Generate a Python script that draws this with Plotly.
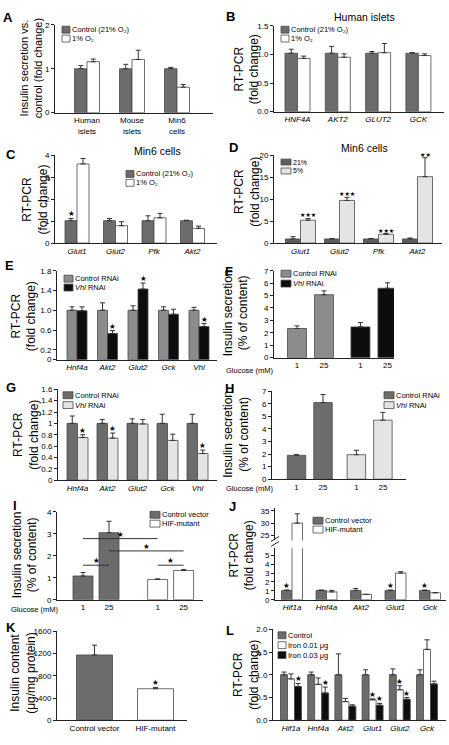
import plotly.graph_objects as go
import numpy as np

W, H = 449, 745
FONT = "Arial, Liberation Sans, sans-serif"
STAR_FONT = "DejaVu Sans, sans-serif"
C_DARK = "#6c6c6c"
C_MID = "#8c8c8c"
C_LIGHT = "#e4e4e4"
C_WHITE = "#ffffff"
C_BLACK = "#0d0d0d"
C_EDGE = "#4a4a4a"
C_AXIS = "#222222"
C_TEXT = "#000000"

# ---------------- data ----------------
A_labels = ["Human<br>islets", "Mouse<br>islets", "Min6<br>cells"]
A_control = [1.00, 1.00, 1.00]
A_control_err = [0.07, 0.10, 0.03]
A_hypoxia = [1.16, 1.21, 0.58]
A_hypoxia_err = [0.06, 0.21, 0.06]

B_labels = ["HNF4A", "AKT2", "GLUT2", "GCK"]
B_control = [1.02, 1.02, 1.02, 1.02]
B_control_err = [0.07, 0.12, 0.03, 0.01]
B_hypoxia = [0.93, 0.95, 1.03, 0.98]
B_hypoxia_err = [0.04, 0.06, 0.16, 0.03]

C_labels = ["Glut1", "Glut2", "Pfk", "Akt2"]
C_control = [1.02, 1.02, 1.02, 1.02]
C_control_err = [0.10, 0.10, 0.22, 0.02]
C_hypoxia = [3.60, 0.79, 1.15, 0.67]
C_hypoxia_err = [0.25, 0.18, 0.20, 0.10]
C_control_sig = ["★", "", "", ""]

D_labels = ["Glut1", "Glut2", "Pfk", "Akt2"]
D_21 = [0.95, 0.95, 0.95, 0.95]
D_21_err = [0.50, 0.10, 0.10, 0.20]
D_5 = [5.2, 9.7, 2.0, 15.1]
D_5_err = [0.4, 0.7, 0.15, 4.3]
D_5_sig = ["★★★", "★★★", "★★★", "★★"]

E_labels = ["Hnf4a", "Akt2", "Glut2", "Gck", "Vhl"]
E_control = [1.0, 1.0, 1.0, 1.0, 1.0]
E_control_err = [0.07, 0.15, 0.09, 0.07, 0.06]
E_vhl = [0.99, 0.53, 1.43, 0.92, 0.67]
E_vhl_err = [0.08, 0.06, 0.12, 0.10, 0.06]
E_vhl_sig = ["", "★", "★", "", "★"]

F_glucose = ["1", "25", "1", "25"]
F_control = [2.35, 5.07]
F_control_err = [0.21, 0.31]
F_vhl = [2.48, 5.59]
F_vhl_err = [0.34, 0.44]

G_labels = ["Hnf4a", "Akt2", "Glut2", "Gck", "Vhl"]
G_control = [1.0, 1.0, 1.0, 1.0, 1.0]
G_control_err = [0.13, 0.07, 0.08, 0.16, 0.16]
G_vhl = [0.75, 0.74, 0.99, 0.70, 0.47]
G_vhl_err = [0.05, 0.09, 0.08, 0.11, 0.06]
G_vhl_sig = ["★", "★", "", "", "★"]

H_glucose = ["1", "25", "1", "25"]
H_control = [1.90, 6.10]
H_control_err = [0.05, 0.64]
H_vhl = [1.95, 4.70]
H_vhl_err = [0.35, 0.62]

I_glucose = ["1", "25", "1", "25"]
I_control = [1.08, 3.05]
I_control_err = [0.16, 0.52]
I_mutant = [0.92, 1.33]
I_mutant_err = [0.03, 0.04]
I_brackets = [(0, 2, 2.78), (1, 3, 2.22), (0, 1, 1.57), (2, 3, 1.57)]

J_labels = ["Hif1a", "Hnf4a", "Akt2", "Glut1", "Gck"]
J_control = [1.05, 1.05, 1.05, 1.05, 1.05]
J_control_err = [0.03, 0.03, 0.22, 0.03, 0.03]
J_mutant = [30.0, 0.88, 0.6, 3.0, 0.78]
J_mutant_err = [3.8, 0.17, 0.0, 0.15, 0.03]
J_control_sig = ["★", "", "", "★", "★"]

K_labels = ["Control vector", "HIF-mutant"]
K_values = [1175, 567]
K_err = [176, 23]
K_sig = ["", "★"]

L_labels = ["Hif1a", "Hnf4a", "Akt2", "Glut1", "Glut2", "Gck"]
L_control = [1.0, 1.0, 1.0, 1.0, 1.0, 1.0]
L_control_err = [0.06, 0.06, 0.46, 0.11, 0.13, 0.11]
L_iron1 = [0.91, 0.79, 0.41, 0.45, 0.67, 1.56]
L_iron1_err = [0.11, 0.14, 0.07, 0.02, 0.09, 0.21]
L_iron3 = [0.74, 0.60, 0.31, 0.33, 0.46, 0.80]
L_iron3_err = [0.07, 0.13, 0.03, 0.04, 0.04, 0.06]
L_iron1_sig = ["", "", "", "★", "★", ""]
L_iron3_sig = ["★", "★", "", "★", "★", ""]

# ---------------- helpers ----------------
fig = go.Figure()
axes = {}
annotations = []
shapes = []
steps = {}
LEG = 7.5
YT = 12
STAR = 7.5


def ref(n, k):
    return k if n == 1 else f"{k}{n}"


def setup(n, box, yrange, ytv, ytt, c0, step, xtv, xtt, xfont=8):
    x0, x1, yt, yb = box
    xk = "xaxis" if n == 1 else f"xaxis{n}"
    yk = "yaxis" if n == 1 else f"yaxis{n}"
    axes[xk] = dict(domain=[x0 / W, x1 / W], range=[(x0 - c0) / step, (x1 - c0) / step],
                    anchor=ref(n, "y"), showline=True, linecolor=C_AXIS, linewidth=1,
                    ticks="", showgrid=False, zeroline=False, tickmode="array",
                    tickvals=xtv, ticktext=xtt, tickangle=0,
                    tickfont=dict(family=FONT, size=xfont, color=C_TEXT), fixedrange=True)
    axes[yk] = dict(domain=[1 - yb / H, 1 - yt / H], range=yrange, anchor=ref(n, "x"),
                    showline=True, linecolor=C_AXIS, linewidth=1, ticks="outside",
                    ticklen=3, tickwidth=1, tickcolor=C_AXIS, showgrid=False, zeroline=False,
                    tickmode="array", tickvals=ytv, ticktext=ytt,
                    tickfont=dict(family=FONT, size=8, color=C_TEXT), fixedrange=True)
    steps[n] = step


def star(x, y, xref, yref, s, size=STAR):
    annotations.append(dict(x=x, y=y, xref=xref, yref=yref, text=s, showarrow=False,
                            yanchor="bottom", yshift=-2,
                            font=dict(family=STAR_FONT, size=size, color="black")))


def bars(n, xs, ys, err, color, wpx, yref=None, sig=None, sigsize=STAR):
    w = wpx / steps[n]
    fig.add_trace(go.Bar(
        x=list(xs), y=ys, width=w,
        marker=dict(color=color, line=dict(color=C_EDGE, width=0.8)),
        error_y=dict(type="data", array=err, arrayminus=[0] * len(err), symmetric=False,
                     color="#333333", thickness=1, width=2.5),
        xaxis=ref(n, "x"), yaxis=yref or ref(n, "y"), showlegend=False, hoverinfo="skip"))
    if sig:
        for xv, yv, ev, s in zip(xs, ys, err, sig):
            if s:
                star(xv, yv + ev, ref(n, "x"), yref or ref(n, "y"), s, sigsize)


def legend_item(xpx, ypx, color, text, wpx=8, hpx=7, size=LEG):
    shapes.append(dict(type="rect", xref="paper", yref="paper", x0=xpx / W, x1=(xpx + wpx) / W,
                       y0=1 - (ypx + hpx / 2) / H, y1=1 - (ypx - hpx / 2) / H,
                       fillcolor=color, line=dict(color=C_EDGE, width=0.8)))
    annotations.append(dict(x=(xpx + wpx) / W, y=1 - ypx / H, xref="paper", yref="paper",
                            text=text, showarrow=False, xanchor="left", yanchor="middle",
                            font=dict(family=FONT, size=size, color=C_TEXT)))


def text(xpx, ypx, s, size=8, bold=False, angle=0, xanchor="center"):
    annotations.append(dict(x=xpx / W, y=1 - ypx / H, xref="paper", yref="paper",
                            text=f"<b>{s}</b>" if bold else s, showarrow=False, textangle=angle,
                            xanchor=xanchor, yanchor="middle",
                            font=dict(family=FONT, size=size, color=C_TEXT)))


def italic(lst):
    return [f"<i>{s}</i>" for s in lst]


def pair_x(n_cat, wpx, step):
    idx = np.arange(n_cat, dtype=float)
    h = wpx / step / 2
    return idx, idx - h, idx + h


# ---------------- A ----------------
setup(1, (55, 213, 21, 110), [0, 2], [0, 1, 2], ["0", "1", "2"], 87, 45,
      list(range(3)), A_labels)
c, l, r = pair_x(3, 12.5, 45)
bars(1, l, A_control, A_control_err, C_DARK, 12.5)
bars(1, r, A_hypoxia, A_hypoxia_err, C_WHITE, 12.5)
legend_item(62, 26, C_DARK, "Control (21% O₂)")
legend_item(62, 35, C_WHITE, "1% O₂")
text(31, 65, "Insulin secretion vs.<br>control (fold change)", 11, angle=-90)
text(8, 14, "A", 13, bold=True)

# ---------------- B ----------------
setup(2, (274, 444, 22, 109), [0, 1.5], [0, 0.5, 1.0, 1.5], ["0.0", "0.5", "1.0", "1.5"],
      297.5, 40.3, list(range(4)), italic(B_labels))
c, l, r = pair_x(4, 12.5, 40.3)
bars(2, l, B_control, B_control_err, C_DARK, 12.5)
bars(2, r, B_hypoxia, B_hypoxia_err, C_WHITE, 12.5)
legend_item(281, 26, C_DARK, "Control (21% O₂)")
legend_item(281, 35, C_WHITE, "1% O₂")
text(364, 13, "Human islets", 10.5)
text(247, 66, "RT-PCR<br>(fold change)", YT, angle=-90)
text(230, 13, "B", 13, bold=True)

# ---------------- C ----------------
setup(3, (55, 217, 153, 242), [0, 4], [0, 1, 2, 3, 4], ["0", "1", "2", "3", "4"],
      77, 38.5, list(range(4)), italic(C_labels))
c, l, r = pair_x(4, 12, 38.5)
bars(3, l, C_control, C_control_err, C_DARK, 12, sig=C_control_sig)
bars(3, r, C_hypoxia, C_hypoxia_err, C_WHITE, 12)
legend_item(126, 172, C_DARK, "Control (21% O₂)")
legend_item(126, 181, C_WHITE, "1% O₂")
text(157, 149, "Min6 cells", 10.5)
text(35, 198, "RT-PCR<br>(fold change)", YT, angle=-90)
text(11, 152, "C", 13, bold=True)

# ---------------- D ----------------
setup(4, (274, 442, 153, 242), [0, 20], [0, 5, 10, 15, 20], ["0", "5", "10", "15", "20"],
      300.5, 39, list(range(4)), italic(D_labels))
c, l, r = pair_x(4, 15, 39)
bars(4, l, D_21, D_21_err, "#5e5e5e", 15)
bars(4, r, D_5, D_5_err, C_LIGHT, 15, sig=D_5_sig, sigsize=6)
legend_item(281, 160, "#5e5e5e", "21%", wpx=10, hpx=6, size=7)
legend_item(281, 169, C_LIGHT, "5%", wpx=10, hpx=6, size=7)
text(364, 146, "Min6 cells", 10.5)
text(247, 190, "RT-PCR<br>(fold change)", YT, angle=-90)
text(233, 145, "D", 13, bold=True)

# ---------------- E ----------------
setup(5, (57, 217, 270, 360), [0, 1.8], [0, 0.2, 0.6, 1.0, 1.4, 1.8],
      ["0", "0.2", "0.6", "1.0", "1.4", "1.8"], 77, 30.5, list(range(5)), italic(E_labels))
c, l, r = pair_x(5, 10, 30.5)
bars(5, l, E_control, E_control_err, C_MID, 10)
bars(5, r, E_vhl, E_vhl_err, C_BLACK, 10, sig=E_vhl_sig)
legend_item(64, 278, C_MID, "Control RNAi", wpx=9)
legend_item(64, 287, C_BLACK, "<i>Vhl</i> RNAi", wpx=9)
text(24, 316, "RT-PCR<br>(fold change)", YT, angle=-90)
text(9, 265, "E", 13, bold=True)

# ---------------- F ----------------
grpF = np.array([0, 1, 0, 1], dtype=float) + np.array([0, 0, 2, 2]) * 1.175
setup(6, (274, 394, 270, 358), [0, 7], list(range(8)), [str(v) for v in range(8)],
      297, 27, list(grpF), F_glucose)
bars(6, grpF[:2], F_control, F_control_err, C_MID, 19)
bars(6, grpF[2:], F_vhl, F_vhl_err, C_BLACK, 19)
legend_item(281, 273, C_MID, "Control RNAi", wpx=10)
legend_item(281, 283, C_BLACK, "<i>Vhl</i> RNAi", wpx=10)
text(250, 371, "Glucose (mM)", 7.5)
text(236, 313, "Insulin secretion<br>(% of content)", YT, angle=-90)
text(229, 271, "F", 13, bold=True)

# ---------------- G ----------------
setup(7, (58, 217, 390, 482), [0, 1.6], [0, 0.2, 0.4, 0.6, 0.8, 1.0, 1.2, 1.4, 1.6],
      ["0", "0.2", "0.4", "0.6", "0.8", "1", "1.2", "1.4", "1.6"], 77.5, 30,
      list(range(5)), italic(G_labels))
c, l, r = pair_x(5, 10.5, 30)
bars(7, l, G_control, G_control_err, C_DARK, 10.5)
bars(7, r, G_vhl, G_vhl_err, C_LIGHT, 10.5, sig=G_vhl_sig)
legend_item(63, 396, C_DARK, "Control RNAi", wpx=10)
legend_item(63, 406, C_LIGHT, "<i>Vhl</i> RNAi", wpx=10)
text(26, 436, "RT-PCR<br>(fold change)", YT, angle=-90)
text(11, 388, "G", 13, bold=True)

# ---------------- H ----------------
grpH = np.array([0, 1, 0, 1], dtype=float) + np.array([0, 0, 2, 2]) * 1.13
setup(8, (272, 406, 392, 481), [0, 7], list(range(8)), [str(v) for v in range(8)],
      296.5, 26.5, list(grpH), H_glucose)
bars(8, grpH[:2], H_control, H_control_err, C_DARK, 18.5)
bars(8, grpH[2:], H_vhl, H_vhl_err, C_LIGHT, 18.5)
legend_item(384, 396, C_DARK, "Control RNAi", wpx=10)
legend_item(384, 406, C_LIGHT, "<i>Vhl</i> RNAi", wpx=10)
text(250, 490, "Glucose (mM)", 7.5)
text(236, 436, "Insulin secretion<br>(% of content)", YT, angle=-90)
text(229, 389, "H", 13, bold=True)

# ---------------- I ----------------
grpI = np.array([0, 1, 0, 1], dtype=float) + np.array([0, 0, 2, 2]) * 1.435
setup(9, (57, 203, 514, 603), [0, 4], [0, 1, 2, 3, 4], ["0", "1", "2", "3", "4"],
      83, 26, list(grpI), I_glucose)
bars(9, grpI[:2], I_control, I_control_err, C_DARK, 20)
bars(9, grpI[2:], I_mutant, I_mutant_err, C_WHITE, 20)
for a, b, yv in I_brackets:
    shapes.append(dict(type="line", xref="x9", yref="y9", x0=grpI[a], x1=grpI[b], y0=yv, y1=yv,
                       line=dict(color="#333333", width=1)))
    star((grpI[a] + grpI[b]) / 2, yv, "x9", "y9", "★")
legend_item(150, 517, C_DARK, "Control vector", wpx=10)
legend_item(150, 526, C_WHITE, "HIF-mutant", wpx=10)
text(35, 613, "Glucose (mM)", 7.5)
text(25, 558, "Insulin secretion<br>(% of content)", YT, angle=-90)
text(15, 508, "I", 13, bold=True)

# ---------------- J (broken axis) ----------------
setup(10, (275, 446, 551, 603), [0, 5.78], [0, 1, 2, 3, 4, 5], ["0", "1", "2", "3", "4", "5"],
      292, 34.5, list(range(5)), italic(J_labels))
axes["yaxis13"] = dict(domain=[1 - 543 / H, 1 - 510 / H], range=[23, 36.2], anchor="x10",
                       showline=True, linecolor=C_AXIS, linewidth=1, ticks="outside", ticklen=3,
                       tickwidth=1, tickcolor=C_AXIS, showgrid=False, zeroline=False,
                       tickmode="array", tickvals=[25, 30, 35], ticktext=["25", "30", "35"],
                       tickfont=dict(family=FONT, size=8, color=C_TEXT), fixedrange=True)
c, l, r = pair_x(5, 10.5, 34.5)
bars(10, l, J_control, J_control_err, C_DARK, 10.5, sig=J_control_sig)
bars(10, r, J_mutant, J_mutant_err, C_WHITE, 10.5)
bars(10, r, J_mutant, J_mutant_err, C_WHITE, 10.5, yref="y13")
for yy in (541.5, 546.5):
    shapes.append(dict(type="line", xref="paper", yref="paper", x0=271 / W, x1=279 / W,
                       y0=1 - (yy + 2.5) / H, y1=1 - (yy - 2.5) / H,
                       line=dict(color=C_AXIS, width=1)))
legend_item(313, 523, C_DARK, "Control vector", wpx=10)
legend_item(313, 532, C_WHITE, "HIF-mutant", wpx=10)
text(242, 558, "RT-PCR<br>(fold change)", YT, angle=-90)
text(232, 509, "J", 13, bold=True)

# ---------------- K ----------------
setup(11, (57, 187, 635, 725), [0, 1600], [0, 400, 800, 1200, 1600],
      ["0", "400", "800", "1200", "1600"], 94.5, 61, [0, 1], K_labels)
kx = np.arange(2, dtype=float)
bars(11, kx[:1], K_values[:1], K_err[:1], C_DARK, 36)
bars(11, kx[1:], K_values[1:], K_err[1:], C_WHITE, 36, sig=K_sig[1:])
text(23, 677, "Insulin content<br>(μg/mg protein)", YT, angle=-90)
text(11, 631, "K", 13, bold=True)

# ---------------- L ----------------
setup(12, (273, 446, 633, 725), [0, 2.0], [0, 0.5, 1.0, 1.5, 2.0],
      ["0.0", "0.5", "1.0", "1.5", "2.0"], 291, 27.2, list(range(6)), italic(L_labels))
idx = np.arange(6, dtype=float)
wl = 7 / 27.2
bars(12, idx - wl, L_control, L_control_err, C_DARK, 7)
bars(12, idx, L_iron1, L_iron1_err, C_WHITE, 7, sig=L_iron1_sig)
bars(12, idx + wl, L_iron3, L_iron3_err, C_BLACK, 7, sig=L_iron3_sig)
legend_item(278, 639, C_DARK, "Control", wpx=8)
legend_item(278, 649, C_WHITE, "Iron 0.01 μg", wpx=8)
legend_item(278, 659, C_BLACK, "Iron 0.03 μg", wpx=8)
text(246, 679, "RT-PCR<br>(fold change)", YT, angle=-90)
text(230, 634, "L", 13, bold=True)

fig.update_layout(
    width=W, height=H, margin=dict(l=0, r=0, t=0, b=0),
    paper_bgcolor="white", plot_bgcolor="white", barmode="overlay",
    showlegend=False, font=dict(family=FONT, size=8, color=C_TEXT),
    annotations=annotations, shapes=shapes, **axes)

fig.write_html("out.html", config={"displayModeBar": False, "staticPlot": True},
               post_script="document.body.style.margin='0px';document.body.style.overflow='hidden';")
